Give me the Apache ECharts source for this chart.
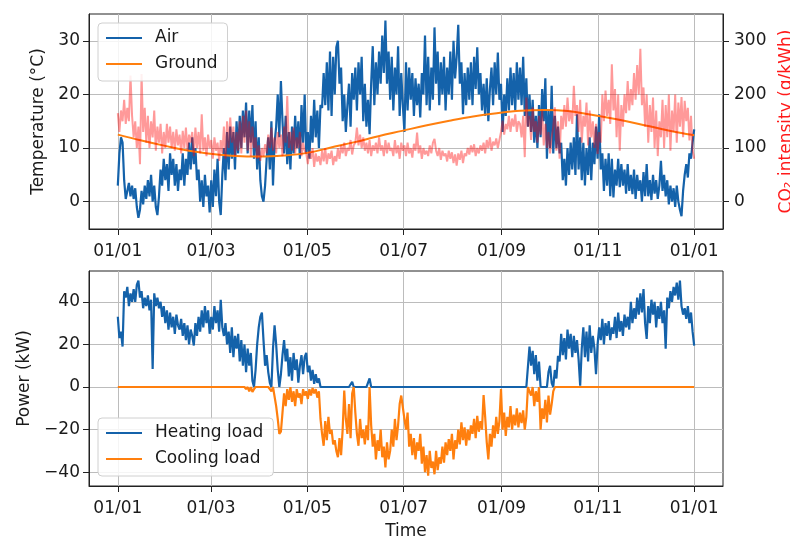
<!DOCTYPE html>
<html><head><meta charset="utf-8">
<script src="https://cdn.jsdelivr.net/npm/echarts@6/dist/echarts.min.js"></script>
<style>html,body{margin:0;padding:0;background:#fff}#c{width:790px;height:537px}</style>
</head><body><div id="c"></div>
<script>
// ---- axis ticks / labels ----
const tickDays = [0, 59, 120, 181, 243, 304, 365];
const tickLabels = ['01/01', '01/03', '01/05', '01/07', '01/09', '01/11', '01/01'];
const tempTicks = [0, 10, 20, 30];
const co2Ticks = [0, 100, 200, 300];
const powerTicks = [-40, -20, 0, 20, 40];

// ---- daily air temperature (°C), day 0 = 01/01 ----
const airTemp = [
3,9,12,11,4,0.5,2,3.5,1,3,
0.5,2.5,-1,-3,-1.5,2,-0.5,3,0.5,4,
1,5,0,3,-1,-2.5,1,6,3,8,
4,7,2,9,5,8,3,7,2,6,
4,9,3,8,5,11,6,12,7,10,
4,6,0,4,-1,5,1,3,-2,4,
-1,6,1,8,0,-2.5,5,10,4,13,
6,14,8,13,6,15,9,16,10,17,
12,18.5,9,17,11,18,8,15,6,12,
4,1,0,3,8,12,6,15,3,11,
14,20,12,22.5,15,9,16,7,13,6,
14,9,16,10,15,8,18,11,20,9,
13,8,16,11,19,12,17,10,18,17.5,
24,18,26,17,28,16,27,20,28.8,30,
22,25,15,20,13,18,22,14,24,19,
25,17,26,20,27,15,22,14,19,12.6,
22,29,18,26,20,28,22,31,24,33.8,
22,28,19,27,17,25,20,29,16,24,
18,13,26,17,25,19,24,16,23,18,
22,15.7,24,20,31,18,27,17,25,19,
32.5,22,28,18,26,20,27,17,25,20,
28,19,30,23,27,33,22,26,16.3,24,
18,25,19,26,18,27,21,28.8,20,24,
17,22,16,23,15,21,25,18,26,20,
27.8,19,22,13,20,16,23,17,25,18,
24,17,26,19,25,18,27,16,23,14,
20,13,19,11,16,10,18,12,21,15,
23,8,17,10,21.6,9,16,10,14,9,
11,4,8,3,10,5,11,6,12,5,
16.3,6,12,4,11,3,10,5,12,4,
11,7,14,8,16.3,6,9,2,8,3,
9,1,8,0.8,6,3,8,2.7,7,3,
6,1.5,7,2,5,1.4,6,0.5,5,2,
4,0,5.5,1,7,1,4,0.3,5,1.5,
4,0.5,3,7.6,2,5,1,4,-0.5,3,
0,2.5,-1,3,0,-1.5,-2.7,2,5,7,
4.5,9,8,11,13.5
];

// ---- ground temperature (°C) ----
const groundDays = [0,15,30,45,60,75,90,105,120,135,150,165,180,195,210,225,240,255,270,285,300,315,330,345,360,365];
const groundTemp = [12.5,11.4,10.4,9.5,8.9,8.5,8.4,8.6,9.1,10.1,11.1,12.2,13.2,14.2,15.1,15.9,16.5,16.95,17.1,16.9,16.2,15.4,14.5,13.5,12.6,12.4];

// ---- daily CO2 intensity (g/kWh) ----
const co2 = [
165,130,170,150,190,145,175,150,235,160,
120,150,100,140,70,238,130,175,110,160,
100,150,120,170,95,140,110,145,90,130,
100,145,110,140,100,130,95,135,105,125,
90,132,100,138,95,125,110,130,85,138,
100,130,90,163,95,120,85,125,100,115,
80,120,95,110,76,115,90,140,80,150,
100,157,110,140,85,130,95,150,90,160,
110,170,95,150,85,140,100,120,80,105,
76,100,85,107,90,125,100,138,95,120,
90,130,100,125,85,140,110,197,100,130,
95,138,90,120,100,130,85,110,95,90,
70,95,80,100,65,90,75,85,68,95,
75,100,70,90,80,95,68,85,75,100,
80,105,90,110,85,100,95,115,88,105,
110,138,105,125,100,120,95,110,90,115,
85,105,95,110,90,120,95,105,85,115,
90,110,95,100,85,115,90,105,80,110,
95,105,85,110,90,100,82,108,95,129,
90,105,80,100,88,95,85,105,90,110,
117,95,85,100,78,95,85,90,75,95,
80,92,72,88,67,90,78,95,72,90,
85,100,88,105,92,107,85,100,90,105,
95,110,90,115,100,120,95,112,105,118,
100,115,130,151,125,145,135,160,130,155,
140,163,130,150,145,120,160,83,194,140,
160,115,176,130,150,110,160,125,170,105,
145,100,130,90,120,140,176,95,150,80,
160,135,180,140,194,150,170,145,216,160,
180,130,190,110,160,140,185,105,170,120,
150,100,145,89,130,110,200,150,207,160,
190,145,256,170,210,120,200,95,180,140,
200,165,225,170,210,180,240,190,255,200,
285,180,213,140,200,110,180,130,194,100,
170,85,150,120,190,100,180,120,200,95,
170,130,200,110,185,140,195,120,188,150,
175,114,160,96,80
];

// ---- daily heating load (kW) ----
const heatingLoad = [
33,23,26,19,45,42,47,38,44,40,
46,40,48,50,42,45,37,42,38,43,
36,41,8.5,44,38,42,37,40,33,38,
30,36,27,35,28,33,25,34,29,27,
32,24,30,22,29,20,27,24,19.5,30,
24,33,26,36,28,38,30,36,25,33,
27,38,30,36,26,41,28,24,30,20,
26,16,28,14,24,18,25,12,22,10,
20,7,18,10,16,3,0,8,20,28,
33,35,22,10,15,7,2,0,18,29,
20,8,0,6,15,22,12,18,5,14,
3,16,8,13,2,10,15,6,14,16,
7,10,3,8,1.5,6,2,4,0,0,
0,0,0,0,0,0,0,0,0,0,
0,0,0,0,0,0,0,0,2.5,0,
0,0,0,0,0,0,0,0,0,4,
0,0,0,0,0,0,0,0,0,0,
0,0,0,0,0,0,0,0,0,0,
0,0,0,0,0,0,0,0,0,0,
0,0,0,0,0,0,0,0,0,0,
0,0,0,0,0,0,0,0,0,0,
0,0,0,0,0,0,0,0,0,0,
0,0,0,0,0,0,0,0,0,0,
0,0,0,0,0,0,0,0,0,0,
0,0,0,0,0,0,0,0,0,0,
0,0,0,0,0,0,0,0,0,0,
19,10,17,6,15,3,12,0,0,0,
0,0,7,10,2,0,8,4,14.7,12,
25,15,23,13,27,18,25,14,24,16,
22,13,0.6,18,28,14,26,12,29,16,
24,18,6,20,28,22,32,20,30,24,
31,22,28,25,33,23,35,26,31,24,
34,28,33,27,40,30,37,32,42,34,
44,35,46,30,22.6,38,30,41,34,40,
28,38,32,40,30,36,18,42,37,45,
40,47,43,49,41,50,38,34,37,32,
38,30,35,26,19.5
];

// ---- daily cooling load (kW) ----
const coolingLoad = [
0,0,0,0,0,0,0,0,0,0,
0,0,0,0,0,0,0,0,0,0,
0,0,0,0,0,0,0,0,0,0,
0,0,0,0,0,0,0,0,0,0,
0,0,0,0,0,0,0,0,0,0,
0,0,0,0,0,0,0,0,0,0,
0,0,0,0,0,0,0,0,0,0,
0,0,0,0,0,0,0,0,0,0,
0,-1,0,-2,0,-2.3,-1,0,0,0,
0,0,0,0,0,0,-1,-2,0,0,
-9,-15,-22,-21,-12,-3,-9,-1,-6,0,
-7,-2,-9,-1,-5,-3,-8,-1,-4,-2,
-5.6,-1,-4,-0.5,-3,-1,-5,-2,-15,-22,
-27.6,-16,-25,-14,-22,-20,-27,-25,-30,-33,
-24,-32,-20,-1.7,-15,-22,-8,-24,-3,0,
-12,-22,-27.6,-15,-24,-20,-27,-18,-25,0,
-18,-28,-22,-34,-25,-30,-20,-33,-28,-37.8,
-26,-34,-30,-20,-28,-15,-25,-18,-8,-4,
-3.8,-15,-20,-12,-28,-22,-32,-24,-34,-26,
-30,-22,-36,-28,-40,-32,-41.7,-30,-38,-35,
-41,-30,-39,-33,-36,-28,-35.5,-26,-32,-24.5,
-30,-22,-34,-25,-29,-20,-27,-16.6,-25,-19,
-27.6,-20,-25,-18,-22,-15,-24,-13.5,-21,-16,
-20,-3.8,-14,-26,-34,-22,-28,-18,-24,-14,
-22,-16,-1,-20,-12,-23,-14,-19,-9,-20,
-13,-18,-10,-19,-12,-17,-11,-20,-14,0,
0,-4,0,-9,-2,-7,0,-20,-10,-15,
-6,-16.6,-4,-13,-8,-2,0,0,0,0,
0,0,0,0,0,0,0,0,0,0,
0,0,0,0,0,0,0,0,0,0,
0,0,0,0,0,0,0,0,0,0,
0,0,0,0,0,0,0,0,0,0,
0,0,0,0,0,0,0,0,0,0,
0,0,0,0,0,0,0,0,0,0,
0,0,0,0,0,0,0,0,0,0,
0,0,0,0,0,0,0,0,0,0,
0,0,0,0,0
];

const FONT = 'DejaVu Sans';
const FS = 17;
const TXT = '#1a1a1a';
const BLUE = '#1462aa';
const ORANGE = '#ff7f0e';
const GRIDC = '#bcbcbc';
const LW = 2.2;

const dailyPairs = arr => arr.map((v, i) => [i * 365 / (arr.length - 1), v]);
const minus = v => String(v).replace('-', '\u2212');

function xAxis(gridIndex, name) {
  return {
    type: 'value', gridIndex, min: -18.25, max: 383.25,
    axisLine: { show: true, onZero: false, lineStyle: { color: '#222', width: 1 } },
    axisTick: { show: true, customValues: tickDays, length: 6, lineStyle: { color: '#222', width: 1 } },
    axisLabel: { customValues: tickDays, formatter: v => tickLabels[tickDays.indexOf(v)],
      margin: 14, color: TXT, fontFamily: FONT, fontSize: FS },
    splitLine: { show: true, lineStyle: { color: GRIDC, width: 1 } },
    name: name, nameLocation: 'middle', nameGap: 37,
    nameTextStyle: { color: TXT, fontFamily: FONT, fontSize: FS }
  };
}
function yAxis(gridIndex, min, max, ticks, opts) {
  return Object.assign({
    type: 'value', gridIndex, min, max, position: 'left',
    axisLine: { show: true, onZero: false, lineStyle: { color: '#222', width: 1 } },
    axisTick: { show: true, customValues: ticks, length: 6, lineStyle: { color: '#222', width: 1 } },
    axisLabel: { customValues: ticks, formatter: minus, margin: 9, color: TXT, fontFamily: FONT, fontSize: FS },
    splitLine: { show: true, lineStyle: { color: GRIDC, width: 1 } },
    nameLocation: 'middle', nameRotate: 90,
    nameTextStyle: { color: TXT, fontFamily: FONT, fontSize: FS }
  }, opts);
}

const legendCommon = {
  orient: 'vertical', icon: 'rect', itemWidth: 36, itemHeight: 2, itemGap: 6,
  backgroundColor: 'rgba(255,255,255,0.85)', borderColor: '#d0d0d0', borderWidth: 1, borderRadius: 4,
  padding: [5, 10, 7, 8],
  textStyle: { color: TXT, fontFamily: FONT, fontSize: FS, lineHeight: 20, padding: [0, 0, 0, 8] }
};

const chart = echarts.init(document.getElementById('c'), null, { renderer: 'canvas' });
chart.setOption({
  animation: false,
  backgroundColor: '#fff',
  grid: [
    { left: 89, right: 67, top: 14, height: 215, outerBoundsMode: 'none', containLabel: false,
      show: true, borderColor: '#222', borderWidth: 1, backgroundColor: 'transparent' },
    { left: 89, right: 67, top: 271, height: 215, outerBoundsMode: 'none', containLabel: false,
      show: true, borderColor: '#222', borderWidth: 1, backgroundColor: 'transparent' }
  ],
  xAxis: [xAxis(0, ''), xAxis(1, 'Time')],
  yAxis: [
    yAxis(0, -5.1, 35, tempTicks, { name: 'Temperature (°C)', nameGap: 42 }),
    yAxis(0, -51, 350, co2Ticks, { position: 'right', name: 'CO\u2082 intensity (g/kWh)', nameGap: 55,
      splitLine: { show: false },
      axisLabel: { customValues: co2Ticks, margin: 11, color: TXT, fontFamily: FONT, fontSize: FS },
      nameTextStyle: { color: '#ff1a1a', fontFamily: FONT, fontSize: FS } }),
    yAxis(1, -46.5, 54.5, powerTicks, { name: 'Power (kW)', nameGap: 56 })
  ],
  legend: [
    Object.assign({}, legendCommon, { data: ['Air', 'Ground'], left: 98, top: 23 }),
    Object.assign({}, legendCommon, { data: ['Heating load', 'Cooling load'], left: 98, top: 418 })
  ],
  series: [
    { name: 'Air', type: 'line', xAxisIndex: 0, yAxisIndex: 0, data: dailyPairs(airTemp),
      showSymbol: false, symbol: 'none', itemStyle: { color: BLUE }, lineStyle: { color: BLUE, width: LW } },
    { name: 'Ground', type: 'line', xAxisIndex: 0, yAxisIndex: 0, smooth: 0.4,
      data: groundDays.map((d, i) => [d, groundTemp[i]]),
      showSymbol: false, symbol: 'none', itemStyle: { color: ORANGE }, lineStyle: { color: ORANGE, width: 2 } },
    { name: 'CO2', type: 'line', xAxisIndex: 0, yAxisIndex: 1, data: dailyPairs(co2),
      showSymbol: false, symbol: 'none', itemStyle: { color: 'rgba(255,0,0,0.4)' },
      lineStyle: { color: 'rgba(255,0,0,0.4)', width: 2 } },
    { name: 'Heating load', type: 'line', xAxisIndex: 1, yAxisIndex: 2, data: dailyPairs(heatingLoad),
      showSymbol: false, symbol: 'none', itemStyle: { color: BLUE }, lineStyle: { color: BLUE, width: LW } },
    { name: 'Cooling load', type: 'line', xAxisIndex: 1, yAxisIndex: 2, data: dailyPairs(coolingLoad),
      showSymbol: false, symbol: 'none', itemStyle: { color: ORANGE }, lineStyle: { color: ORANGE, width: LW } }
  ]
});
</script>
</body></html>
